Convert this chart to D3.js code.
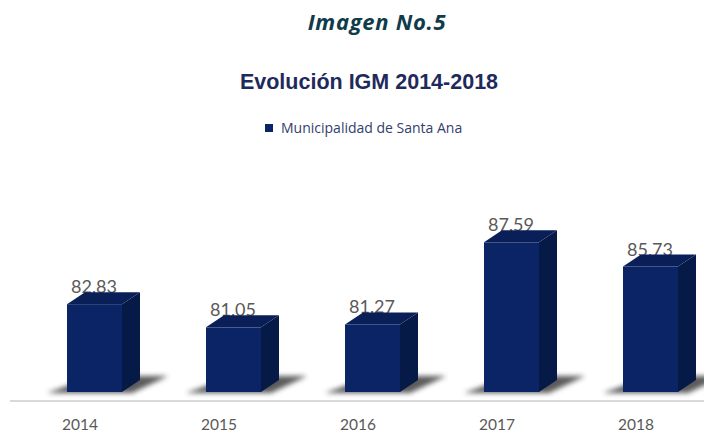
<!DOCTYPE html>
<html><head><meta charset="utf-8">
<script src="https://cdn.jsdelivr.net/npm/d3@7"></script>
<style>
html,body{margin:0;padding:0;background:#fff;}
svg{display:block;}
</style></head>
<body>
<svg id="c" width="704" height="433"></svg>
<script>
const years = ["2014","2015","2016","2017","2018"];
const values = [82.83, 81.05, 81.27, 87.59, 85.73];
const valueLabels = ["82,83","81,05","81,27","87,59","85,73"];
const seriesName = "Municipalidad de Santa Ana";
const pageTitle = "Imagen No.5";
const chartTitle = "Evolución IGM 2014-2018";

const svg = d3.select("#c");
const W = 704, H = 433;

const x = d3.scaleBand().domain(years).range([10.5, 705.5]).padding(0);
const y = d3.scaleLinear().domain([76, 90]).range([393, 211]);
const base = 392;
const dx = 18, dy = -12, bw = 55;

const defs = svg.append("defs");
const blur = defs.append("filter").attr("id","sh").attr("x","-50%").attr("y","-100%").attr("width","200%").attr("height","300%");
blur.append("feGaussianBlur").attr("stdDeviation", 2.5);

// titles
svg.append("text").attr("x", 377).attr("y", 30).attr("text-anchor","middle")
  .attr("font-family","Open Sans").attr("font-weight","bold").attr("font-style","italic")
  .attr("font-size", 22).attr("letter-spacing", 0.7).attr("fill","#0f3b4b").text(pageTitle);
svg.append("text").attr("x", 369).attr("y", 89).attr("text-anchor","middle")
  .attr("font-family","Liberation Sans, Arial").attr("font-weight","bold")
  .attr("font-size", 21.5).attr("fill","#1f2a5c").text(chartTitle);

// legend
svg.append("rect").attr("x", 265).attr("y", 124).attr("width", 8).attr("height", 8).attr("fill","#0b2466");
svg.append("text").attr("x", 281).attr("y", 133).attr("font-family","Open Sans")
  .attr("font-size", 14).attr("fill","#33406e").text(seriesName);

// baseline
svg.append("line").attr("x1", 10).attr("x2", 704).attr("y1", 401).attr("y2", 401)
  .attr("stroke","#d9d9d9").attr("stroke-width", 2);

// axis labels
const xAxis = d3.axisBottom(x).tickSize(0).tickPadding(0);
const ax = svg.append("g").attr("transform","translate(0,430)").call(xAxis);
ax.select(".domain").remove();
ax.selectAll("text").attr("font-family","Lato").attr("font-size", 15.5).attr("fill","#595959").attr("dy", 0).attr("y", 0);

const data = years.map((yr,i)=>({yr, v: values[i], lab: valueLabels[i]}));
const g = svg.append("g");

// shadows
g.selectAll("path.sh").data(data).join("path").attr("class","sh")
  .attr("filter","url(#sh)").attr("fill","#333").attr("opacity",0.8)
  .attr("d", d => {
    const l = x(d.yr) + x.bandwidth()/2 - 13;
    return `M${l-20},${base+1} L${l+bw+10},${base+1} L${l+bw+dx+28},${base-16} L${l+dx+10},${base-16} Z`;
  });

// value labels (drawn before bars so the top face overlaps)
g.selectAll("text.val").data(data).join("text").attr("class","val")
  .attr("x", d => x(d.yr) + x.bandwidth()/2 - 13 + 27)
  .attr("y", d => y(d.v) + dy + 1)
  .attr("text-anchor","middle").attr("font-family","Lato").attr("font-size", 18)
  .attr("fill","#595959").text(d => d.lab);

// bars
const bars = g.selectAll("g.bar").data(data).join("g").attr("class","bar");
bars.append("rect")
  .attr("x", d => x(d.yr) + x.bandwidth()/2 - 13)
  .attr("y", d => y(d.v))
  .attr("width", bw)
  .attr("height", d => base - y(d.v))
  .attr("fill","#0b2466");
bars.append("path").attr("fill","#061a48")
  .attr("d", d => {
    const l = x(d.yr) + x.bandwidth()/2 - 13, r = l + bw, t = y(d.v);
    return `M${r},${t} L${r+dx},${t+dy} L${r+dx},${base+dy} L${r},${base} Z`;
  });
bars.append("path").attr("fill","#0a1f58")
  .attr("d", d => {
    const l = x(d.yr) + x.bandwidth()/2 - 13, r = l + bw, t = y(d.v);
    return `M${l},${t} L${l+dx},${t+dy} L${r+dx},${t+dy} L${r},${t} Z`;
  });
</script>
</body></html>
